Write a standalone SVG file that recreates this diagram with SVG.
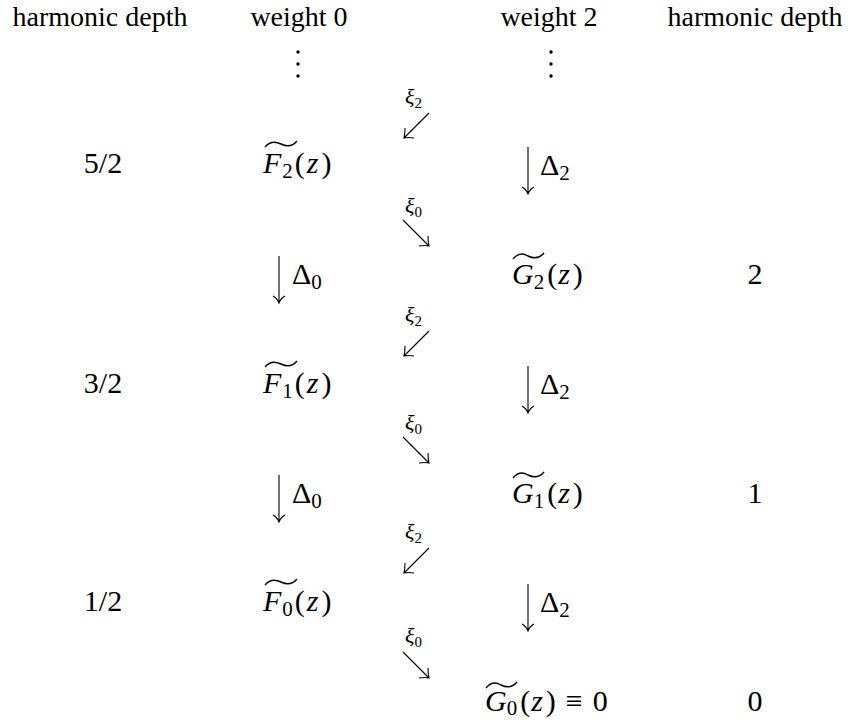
<svg xmlns="http://www.w3.org/2000/svg" width="849" height="721" viewBox="0 0 849 721">
<style>
text{font-family:"Liberation Serif","DejaVu Serif",serif;fill:#000}
.h{font-size:28px}
.m{font-size:30px}
.i{font-style:italic}
.s{font-size:21px}
.x{font-size:22px}
.xs{font-size:15px}
.c{text-anchor:middle}
.ln{stroke:#000;stroke-width:1.1;fill:none}
.tl{stroke:#000;stroke-width:1.4;fill:none}
</style>
<rect width="849" height="721" fill="#fff"/>
<g id="headers">
<text class="h c" x="100" y="26">harmonic depth</text>
<text class="h c" x="299" y="26">weight 0</text>
<text class="h c" x="549" y="26">weight 2</text>
<text class="h c" x="755" y="26">harmonic depth</text>
</g>
<g id="vdots0"><circle cx="298" cy="52" r="1.7"/><circle cx="298" cy="64" r="1.7"/><circle cx="298" cy="76" r="1.7"/></g>
<g id="vdots2"><circle cx="551" cy="52" r="1.7"/><circle cx="551" cy="64" r="1.7"/><circle cx="551" cy="76" r="1.7"/></g>

<g id="depth52"><text class="m c" x="103" y="173">5/2</text></g>
<g id="F2"><path class="tl" d="M265,147 C270,141 275,141 281,144 C287,147 292,147 297,141"/><text class="m" x="263" y="173"><tspan class="i">F</tspan><tspan class="s" dx="1" dy="5">2</tspan><tspan dx="2" dy="-5">(</tspan><tspan class="i" dx="2">z</tspan><tspan dx="3">)</tspan></text></g>
<g id="G2"><path class="tl" d="M513,259 C518,253 523,253 528,256 C534,259 539,259 544,253"/><text class="m" x="512" y="284"><tspan class="i">G</tspan><tspan class="s" dy="5">2</tspan><tspan dx="3" dy="-5">(</tspan><tspan class="i" dx="1">z</tspan><tspan dx="3">)</tspan></text></g>
<g id="depth2"><text class="m c" x="755" y="284">2</text></g>

<g id="depth32"><text class="m c" x="103" y="393">3/2</text></g>
<g id="F1"><path class="tl" d="M265,367 C270,361 275,361 281,364 C287,367 292,367 297,361"/><text class="m" x="263" y="393"><tspan class="i">F</tspan><tspan class="s" dx="1" dy="5">1</tspan><tspan dx="2" dy="-5">(</tspan><tspan class="i" dx="2">z</tspan><tspan dx="3">)</tspan></text></g>
<g id="G1"><path class="tl" d="M513,478 C518,472 523,472 528,475 C534,478 539,478 544,472"/><text class="m" x="512" y="503"><tspan class="i">G</tspan><tspan class="s" dy="5">1</tspan><tspan dx="3" dy="-5">(</tspan><tspan class="i" dx="1">z</tspan><tspan dx="3">)</tspan></text></g>
<g id="depth1"><text class="m c" x="755" y="503">1</text></g>

<g id="depth12"><text class="m c" x="103" y="611">1/2</text></g>
<g id="F0"><path class="tl" d="M265,585 C270,579 275,579 281,582 C287,585 292,585 297,579"/><text class="m" x="263" y="611"><tspan class="i">F</tspan><tspan class="s" dx="1" dy="5">0</tspan><tspan dx="2" dy="-5">(</tspan><tspan class="i" dx="2">z</tspan><tspan dx="3">)</tspan></text></g>
<g id="G0"><path class="tl" d="M486,688 C491,682 496,682 501,685 C507,688 512,688 517,682"/><text class="m" x="485" y="711"><tspan class="i">G</tspan><tspan class="s" dy="4">0</tspan><tspan dx="3" dy="-4">(</tspan><tspan class="i" dx="1">z</tspan><tspan dx="3">)</tspan><tspan dx="10">≡</tspan><tspan dx="10">0</tspan></text></g>
<g id="depth0"><text class="m c" x="755" y="711">0</text></g>

<g id="connectors">
<g><path class="ln" d="M528,147V193M522,187Q526,189 528,194Q530,189 534,187"/><text class="m" x="540" y="175">Δ<tspan class="s" dy="5">2</tspan></text></g>
<g><path class="ln" d="M528,366V412M522,406Q526,408 528,413Q530,408 534,406"/><text class="m" x="540" y="394">Δ<tspan class="s" dy="5">2</tspan></text></g>
<g><path class="ln" d="M528,584V630M522,624Q526,626 528,631Q530,626 534,624"/><text class="m" x="540" y="612">Δ<tspan class="s" dy="5">2</tspan></text></g>
<g><path class="ln" d="M279,256V302M273,296Q277,298 279,303Q281,298 285,296"/><text class="m" x="292" y="284">Δ<tspan class="s" dy="5">0</tspan></text></g>
<g><path class="ln" d="M279,475V521M273,515Q277,517 279,522Q281,517 285,515"/><text class="m" x="292" y="503">Δ<tspan class="s" dy="5">0</tspan></text></g>
<g><text class="x i" x="405" y="104">ξ<tspan class="xs" font-style="normal" dy="4">2</tspan></text><path class="ln" d="M429,113L404,138M405,128Q405,134 404,138Q408,137 414,138"/></g>
<g><text class="x i" x="405" y="322">ξ<tspan class="xs" font-style="normal" dy="4">2</tspan></text><path class="ln" d="M429,331L404,356M405,346Q405,352 404,356Q408,355 414,356"/></g>
<g><text class="x i" x="405" y="539">ξ<tspan class="xs" font-style="normal" dy="4">2</tspan></text><path class="ln" d="M429,548L404,573M405,563Q405,569 404,573Q408,572 414,573"/></g>
<g><text class="x i" x="405" y="213">ξ<tspan class="xs" font-style="normal" dy="4">0</tspan></text><path class="ln" d="M403,220L429,246M419,246Q425,245 429,246Q428,242 428,236"/></g>
<g><text class="x i" x="405" y="430">ξ<tspan class="xs" font-style="normal" dy="4">0</tspan></text><path class="ln" d="M403,437L429,463M419,463Q425,462 429,463Q428,459 428,453"/></g>
<g><text class="x i" x="405" y="643">ξ<tspan class="xs" font-style="normal" dy="4">0</tspan></text><path class="ln" d="M403,652L429,678M419,678Q425,677 429,678Q428,674 428,668"/></g>
</g>
</svg>
